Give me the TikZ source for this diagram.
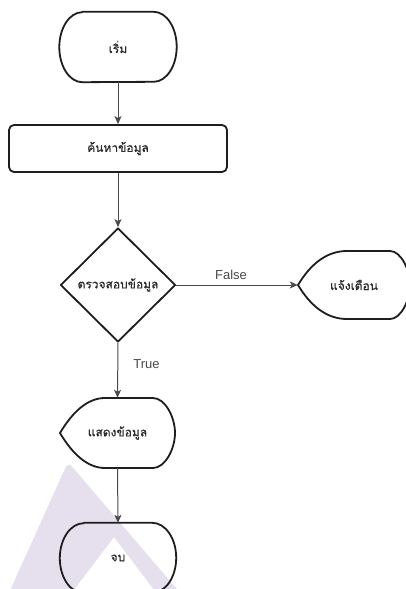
\documentclass[tikz,border=0pt]{standalone}
\usepackage{fontspec}
\newfontfamily\thai[Script=Thai, FakeBold=0.6]{Loma}
\newfontfamily\labfont{Liberation Sans}
\usetikzlibrary{shapes.geometric,arrows.meta}
\definecolor{ink}{HTML}{1E1E1E}
\definecolor{wire}{HTML}{4A4A4A}
\definecolor{txt}{HTML}{2A2A2A}
\definecolor{lav}{RGB}{229,223,238}
\tikzset{
  outline/.style={draw=ink, line width=1.8pt, line join=round},
  boxtext/.style={inner sep=0pt, font=\thai\fontsize{12}{14}\selectfont, text=txt},
  flow/.style={draw=wire, line width=1pt, -{Stealth[length=8pt,width=7pt,inset=2pt]}},
  edgelabel/.style={font=\labfont\fontsize{13}{15}\selectfont, text=txt!85!white, inner sep=1pt}
}
\begin{document}
\begin{tikzpicture}[x=1pt, y=-1pt]
\useasboundingbox (0,0) rectangle (406,589);
\clip (0,0) rectangle (406,589);
\fill[white] (0,0) rectangle (406,589);

% background mark
\fill[lav, even odd rule]
  [rounded corners=6pt] (8,595) -- (68,462) -- (182,595) -- cycle
  [sharp corners] (70,595) -- (114,537) -- (158,595) -- cycle;

% start terminal
\node[boxtext, minimum width=117pt, minimum height=70pt] (start) at (118,47) {เริ่ม};
\draw[outline] ([xshift=23pt]start.north west) -- ([xshift=-23pt]start.north east)
  arc[start angle=90, end angle=-90, x radius=23pt, y radius=35pt]
  -- ([xshift=23pt]start.south west)
  arc[start angle=270, end angle=90, x radius=23pt, y radius=35pt] -- cycle;

% search process
\node[boxtext, outline, rounded corners=5pt, minimum width=218pt, minimum height=47pt] (search) at (118,148.5) {ค้นหาข้อมูล};

% decision
\node[boxtext, outline, diamond, minimum width=115pt, minimum height=114pt] (check) at (118,285) {ตรวจสอบข้อมูล};

% warning display
\begin{scope}[shift={(354,285)}]
  \node[boxtext, minimum width=112pt, minimum height=68pt] (warn) at (0,0) {แจ้งเตือน};
  \draw[outline] (-56,0) .. controls (-44,-20) and (-28,-34) .. (-7,-34) -- (36,-34)
    .. controls (47,-34) and (56,-15) .. (56,0)
    .. controls (56,15) and (47,34) .. (36,34) -- (-7,34)
    .. controls (-28,34) and (-44,20) .. (-56,0) -- cycle;
\end{scope}

% data display
\begin{scope}[shift={(117.5,433)}]
  \node[boxtext, minimum width=115pt, minimum height=70pt] (show) at (0,0) {แสดงข้อมูล};
  \draw[outline] (-57.5,0) .. controls (-45,-21) and (-30,-35) .. (-12.5,-35) -- (35.5,-35)
    .. controls (47.5,-35) and (57.5,-16) .. (57.5,0)
    .. controls (57.5,16) and (47.5,35) .. (35.5,35) -- (-12.5,35)
    .. controls (-30,35) and (-45,21) .. (-57.5,0) -- cycle;
\end{scope}

% end terminal
\node[boxtext, minimum width=116pt, minimum height=70pt] (stop) at (118,558) {จบ};
\draw[outline] ([xshift=24pt]stop.north west) -- ([xshift=-24pt]stop.north east)
  arc[start angle=90, end angle=-90, x radius=24pt, y radius=35pt]
  -- ([xshift=24pt]stop.south west)
  arc[start angle=270, end angle=90, x radius=24pt, y radius=35pt] -- cycle;

% connectors
\draw[flow] (start.south) -- (search.north);
\draw[flow] (search.south) -- (check.north);
\draw[flow] (check.east) -- node[edgelabel, above=4pt, pos=0.45] {False} (warn.west);
\draw[flow] (check.south) -- node[edgelabel, right=14pt, pos=0.38] {True} (show.north);
\draw[flow] (show.south) -- (stop.north);
\end{tikzpicture}
\end{document}
